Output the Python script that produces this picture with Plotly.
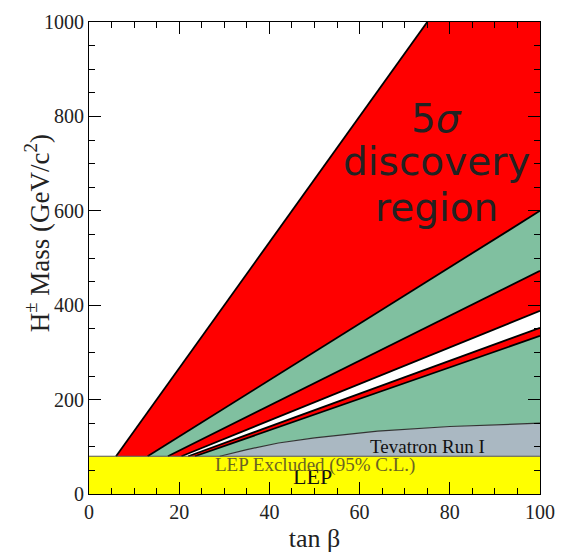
import plotly.graph_objects as go

# Boundary lines of the charged-Higgs discovery/exclusion bands (tan beta, mass in GeV/c^2)
L1_tanb = [6, 75]
L1_mass = [80, 1000]
L2_tanb = [13, 100]
L2_mass = [80, 600]
L3_tanb = [17.5, 100]
L3_mass = [80, 473]
L4_tanb = [20.5, 100]
L4_mass = [80, 388]
L5_tanb = [22, 100]
L5_mass = [80, 352]
L6_tanb = [23.5, 100]
L6_mass = [80, 335]

# Tevatron Run I exclusion curve
tev_tanb = [29, 35, 42, 50, 64, 80, 100]
tev_mass = [80, 94, 108, 119, 133, 143, 150]

# LEP exclusion limit
lep_limit = 80
x_range = [0, 100]
y_range = [0, 1000]

RED = "#ff0000"
GREEN = "#80c0a0"
GREY = "#aab8c2"
YELLOW = "#ffff00"

fig = go.Figure()


def band(xs, ys, color):
    fig.add_trace(go.Scatter(x=xs, y=ys, fill="toself", fillcolor=color,
                             mode="none", hoverinfo="skip", showlegend=False))


# LEP excluded region
band([x_range[0], x_range[1], x_range[1], x_range[0]],
     [y_range[0], y_range[0], lep_limit, lep_limit], YELLOW)

# Tevatron excluded region
band(tev_tanb + [x_range[1]], tev_mass + [lep_limit], GREY)

# Green region between L6 and the Tevatron curve
band(L6_tanb + tev_tanb[::-1], L6_mass + tev_mass[::-1], GREEN)

# Thin red sliver between L5 and L6
band(L5_tanb + L6_tanb[::-1], L5_mass + L6_mass[::-1], RED)

# Red band between L3 and L4
band(L3_tanb + L4_tanb[::-1], L3_mass + L4_mass[::-1], RED)

# Green band between L2 and L3
band(L2_tanb + L3_tanb[::-1], L2_mass + L3_mass[::-1], GREEN)

# Large red discovery region between L1 and L2
band(L1_tanb + [x_range[1]] + L2_tanb[::-1],
     L1_mass + [y_range[1]] + L2_mass[::-1], RED)

# Black boundary lines
for xs, ys in [(L1_tanb, L1_mass), (L2_tanb, L2_mass), (L3_tanb, L3_mass),
               (L4_tanb, L4_mass), (L5_tanb, L5_mass), (L6_tanb, L6_mass)]:
    fig.add_trace(go.Scatter(x=xs, y=ys, mode="lines",
                             line=dict(color="black", width=1.8),
                             hoverinfo="skip", showlegend=False))

fig.add_trace(go.Scatter(x=tev_tanb, y=tev_mass, mode="lines",
                         line=dict(color="#333333", width=1.2),
                         hoverinfo="skip", showlegend=False))
fig.add_trace(go.Scatter(x=x_range, y=[lep_limit, lep_limit], mode="lines",
                         line=dict(color="#555555", width=1),
                         hoverinfo="skip", showlegend=False))

serif = "Liberation Serif"
big = dict(family="DejaVu Sans", size=39, color="#222222")

# Discovery-region label, one annotation per line
fig.add_annotation(x=77, y=796, text="5<i>σ</i>", showarrow=False, font=big)
fig.add_annotation(x=77, y=705, text="discovery", showarrow=False, font=big)
fig.add_annotation(x=77, y=606, text="region", showarrow=False, font=big)

fig.add_annotation(x=75, y=101, text="Tevatron Run I", showarrow=False,
                   font=dict(family=serif, size=19, color="#111111"))
fig.add_annotation(x=49.6, y=38, text="LEP", showarrow=False,
                   font=dict(family=serif, size=22, color="#111111"))
fig.add_annotation(x=50, y=62, text="LEP Excluded (95% C.L.)", showarrow=False,
                   font=dict(family=serif, size=19, color="#6b6422"))

# Vertical axis title
fig.add_annotation(xref="paper", yref="paper", x=-0.1145, y=0.553,
                   xanchor="center", yanchor="middle",
                   text="H<sup>±</sup> Mass (GeV/c<sup>2</sup>)", textangle=-90,
                   showarrow=False,
                   font=dict(family=serif, size=27, color="#222222"))

axis_common = dict(showgrid=False, zeroline=False, showline=True,
                   linecolor="black", linewidth=1, mirror="ticks",
                   ticks="inside", ticklen=12, tickcolor="black",
                   tickfont=dict(family=serif, size=20, color="#222222"))

fig.update_xaxes(range=x_range, dtick=20, tick0=0,
                 minor=dict(dtick=5, ticks="inside", ticklen=6, tickcolor="black"),
                 title=dict(text="tan β", font=dict(family=serif, size=26, color="#222222"),
                            standoff=6),
                 **axis_common)
fig.update_yaxes(range=y_range, dtick=200, tick0=0,
                 minor=dict(dtick=50, ticks="inside", ticklen=6, tickcolor="black"),
                 **axis_common)

fig.update_layout(width=566, height=558,
                  margin=dict(l=89, r=23, t=11, b=61),
                  plot_bgcolor="white", paper_bgcolor="white")

fig.write_html("out.html")
